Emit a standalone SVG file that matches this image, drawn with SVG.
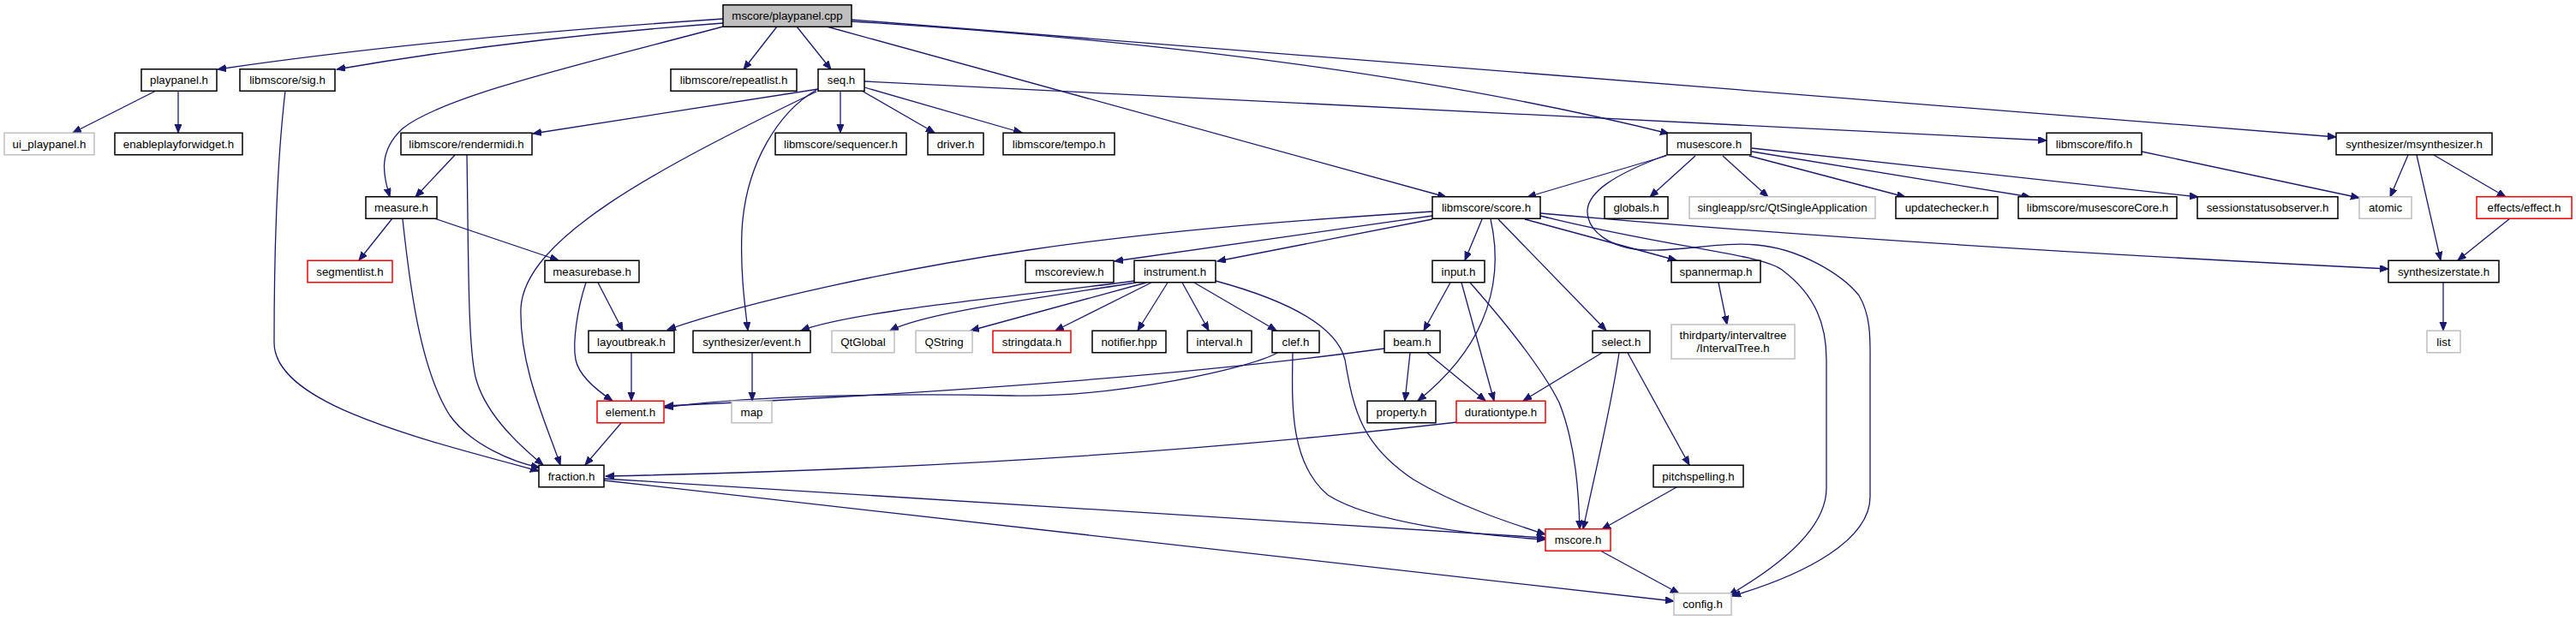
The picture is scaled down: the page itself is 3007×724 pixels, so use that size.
<svg xmlns="http://www.w3.org/2000/svg" width="3007" height="724" viewBox="0 0 3007 724">
<style>
.n rect{fill:#fff;stroke:#000;stroke-width:1.5}
.n.g rect{stroke:#bfbfbf}
.n.r rect{stroke:#ff0000}
.n.root rect{fill:#bfbfbf}
.n text{font-family:"Liberation Sans",Arial,Helvetica,sans-serif;font-size:13.3px;fill:#000;text-anchor:middle}
.e path{fill:none;stroke:#191970;stroke-width:1.3;marker-end:url(#ah)}
</style>
<defs>
<marker id="ah" markerUnits="userSpaceOnUse" markerWidth="11" markerHeight="9" refX="10" refY="4" orient="auto">
<path d="M0,0 L10,4 L0,8 z" fill="#191970" stroke="#191970" stroke-width="1"/>
</marker>
</defs>
<rect width="3007" height="724" fill="#fff"/>
<g id="edges" class="e">
<path d="M844,22 Q500,45 254,81"/>
<path d="M844,27 Q600,45 393,81"/>
<path d="M844,31 C700,70 520,110 470,150 C440,178 448,205 455,230"/>
<path d="M907,31 L868,81"/>
<path d="M930,31 L970,81"/>
<path d="M965,31 L1688,230"/>
<path d="M994,25 Q1560,60 1948,156"/>
<path d="M994,23 L2727,160"/>
<path d="M182,106 L85,155"/>
<path d="M208,106 L208,155"/>
<path d="M333,106 C322,200 320,330 320,400 C320,470 480,510 629,550"/>
<path d="M955,104 L622,156"/>
<path d="M953,107 C760,200 612,280 608,360 C606,430 640,500 654,543"/>
<path d="M981,106 L981,155"/>
<path d="M1006,106 L1091,155"/>
<path d="M1009,102 L1193,155"/>
<path d="M1009,95 L2389,164"/>
<path d="M953,105 C910,130 870,190 866,270 C864,320 870,360 873,386"/>
<path d="M531,181 L485,230"/>
<path d="M470,256 C478,330 490,430 525,485 C550,520 600,540 630,546"/>
<path d="M545,181 C547,300 546,400 555,440 C565,480 600,515 634,543"/>
<path d="M725,494 L683,543"/>
<path d="M1701,493 Q1250,545 707,556"/>
<path d="M458,255 L419,304"/>
<path d="M507,255 L652,304"/>
<path d="M698,330 L727,386"/>
<path d="M684,330 C674,360 668,400 672,420 C676,440 700,458 715,468"/>
<path d="M737,412 L737,468"/>
<path d="M1672,247 C1500,258 1350,270 1200,292 C1050,314 880,350 779,385"/>
<path d="M1672,252 L1301,305"/>
<path d="M1672,256 L1421,305"/>
<path d="M1730,256 L1710,304"/>
<path d="M1740,256 C1750,300 1745,340 1730,375 C1715,410 1690,440 1655,468"/>
<path d="M1749,256 L1875,386"/>
<path d="M1780,256 L1957,304"/>
<path d="M1798,252 C1950,290 2050,295 2080,315 C2120,345 2132,380 2132,420 L2132,570 C2132,620 2070,665 2018,695"/>
<path d="M1798,249 Q2200,285 2788,314"/>
<path d="M1948,180 C1880,205 1855,225 1853,245 C1852,270 1880,290 1920,292 C1960,294 2010,282 2050,286 C2100,290 2150,320 2170,345 C2185,370 2183,400 2183,430 L2183,580 C2183,630 2110,670 2022,696"/>
<path d="M1945,182 L1783,230"/>
<path d="M1979,182 L1926,230"/>
<path d="M2011,182 L2064,230"/>
<path d="M2042,182 L2224,230"/>
<path d="M2045,177 L2370,230"/>
<path d="M2045,173 L2566,230"/>
<path d="M2500,177 L2754,231"/>
<path d="M2811,181 L2790,230"/>
<path d="M2821,181 L2849,304"/>
<path d="M2841,181 L2925,230"/>
<path d="M2930,255 L2869,304"/>
<path d="M2852,330 L2852,386"/>
<path d="M1324,328 C1200,345 1000,362 935,386"/>
<path d="M1326,330 C1200,350 1080,365 1039,386"/>
<path d="M1338,330 L1133,386"/>
<path d="M1344,330 L1232,386"/>
<path d="M1363,330 L1328,386"/>
<path d="M1380,330 L1411,386"/>
<path d="M1394,330 L1490,386"/>
<path d="M1419,328 C1500,350 1560,380 1570,420 C1580,480 1590,520 1650,560 C1700,590 1760,610 1804,624"/>
<path d="M1491,412 C1460,430 1300,465 1180,462 C1000,458 850,465 776,476"/>
<path d="M1616,407 Q1300,450 776,474"/>
<path d="M1509,412 C1508,470 1505,540 1550,578 C1600,610 1720,625 1804,630"/>
<path d="M705,559 L1804,628"/>
<path d="M705,561 L1954,702"/>
<path d="M1693,330 L1662,386"/>
<path d="M1706,330 L1744,468"/>
<path d="M1716,330 C1760,380 1800,430 1820,470 C1840,520 1843,580 1844,618"/>
<path d="M1646,412 L1640,468"/>
<path d="M1666,412 L1734,468"/>
<path d="M1870,412 L1778,468"/>
<path d="M1890,412 C1880,480 1860,560 1848,618"/>
<path d="M1900,412 L1972,543"/>
<path d="M1957,569 L1870,618"/>
<path d="M1868,643 L1960,693"/>
<path d="M2006,330 L2016,379"/>
<path d="M878,412 L878,468"/>
</g>
<g id="n_root" class="n root"><rect x="844" y="5.75" width="150" height="25.5"/><text x="919" y="23.2">mscore/playpanel.cpp</text></g>
<g id="n_playpanel_h" class="n"><rect x="165" y="80.75" width="88" height="25.5"/><text x="209" y="98.2">playpanel.h</text></g>
<g id="n_sig_h" class="n"><rect x="280" y="80.75" width="111" height="25.5"/><text x="335.5" y="98.2">libmscore/sig.h</text></g>
<g id="n_repeatlist_h" class="n"><rect x="783" y="80.75" width="147" height="25.5"/><text x="856.5" y="98.2">libmscore/repeatlist.h</text></g>
<g id="n_seq_h" class="n"><rect x="955" y="80.75" width="54" height="25.5"/><text x="982" y="98.2">seq.h</text></g>
<g id="n_ui_playpanel_h" class="n g"><rect x="5" y="155.25" width="105" height="25.5"/><text x="57.5" y="172.7">ui_playpanel.h</text></g>
<g id="n_enableplayforwidget_h" class="n"><rect x="134" y="155.25" width="149" height="25.5"/><text x="208.5" y="172.7">enableplayforwidget.h</text></g>
<g id="n_rendermidi_h" class="n"><rect x="468" y="155.25" width="153" height="25.5"/><text x="544.5" y="172.7">libmscore/rendermidi.h</text></g>
<g id="n_sequencer_h" class="n"><rect x="905" y="155.25" width="153" height="25.5"/><text x="981.5" y="172.7">libmscore/sequencer.h</text></g>
<g id="n_driver_h" class="n"><rect x="1083" y="155.25" width="65" height="25.5"/><text x="1115.5" y="172.7">driver.h</text></g>
<g id="n_tempo_h" class="n"><rect x="1171" y="155.25" width="130" height="25.5"/><text x="1236" y="172.7">libmscore/tempo.h</text></g>
<g id="n_musescore_h" class="n"><rect x="1946" y="155.25" width="98" height="25.5"/><text x="1995" y="172.7">musescore.h</text></g>
<g id="n_fifo_h" class="n"><rect x="2389" y="155.25" width="111" height="25.5"/><text x="2444.5" y="172.7">libmscore/fifo.h</text></g>
<g id="n_msynthesizer_h" class="n"><rect x="2727" y="155.25" width="182" height="25.5"/><text x="2818" y="172.7">synthesizer/msynthesizer.h</text></g>
<g id="n_measure_h" class="n"><rect x="427" y="229.75" width="83" height="25.5"/><text x="468.5" y="247.2">measure.h</text></g>
<g id="n_score_h" class="n"><rect x="1672" y="229.75" width="126" height="25.5"/><text x="1735" y="247.2">libmscore/score.h</text></g>
<g id="n_globals_h" class="n"><rect x="1873" y="229.75" width="74" height="25.5"/><text x="1910" y="247.2">globals.h</text></g>
<g id="n_qtsingleapp" class="n g"><rect x="1972" y="229.75" width="217" height="25.5"/><text x="2080.5" y="247.2">singleapp/src/QtSingleApplication</text></g>
<g id="n_updatechecker_h" class="n"><rect x="2213" y="229.75" width="119" height="25.5"/><text x="2272.5" y="247.2">updatechecker.h</text></g>
<g id="n_musescoreCore_h" class="n"><rect x="2356" y="229.75" width="185" height="25.5"/><text x="2448.5" y="247.2">libmscore/musescoreCore.h</text></g>
<g id="n_sessionstatusobserver_h" class="n"><rect x="2565" y="229.75" width="164" height="25.5"/><text x="2647" y="247.2">sessionstatusobserver.h</text></g>
<g id="n_atomic" class="n g"><rect x="2754" y="229.75" width="61" height="25.5"/><text x="2784.5" y="247.2">atomic</text></g>
<g id="n_effect_h" class="n r"><rect x="2891" y="229.75" width="111" height="25.5"/><text x="2946.5" y="247.2">effects/effect.h</text></g>
<g id="n_segmentlist_h" class="n r"><rect x="359" y="304.25" width="99" height="25.5"/><text x="408.5" y="321.7">segmentlist.h</text></g>
<g id="n_measurebase_h" class="n"><rect x="636" y="304.25" width="110" height="25.5"/><text x="691" y="321.7">measurebase.h</text></g>
<g id="n_mscoreview_h" class="n"><rect x="1197" y="304.25" width="103" height="25.5"/><text x="1248.5" y="321.7">mscoreview.h</text></g>
<g id="n_instrument_h" class="n"><rect x="1324" y="304.25" width="95" height="25.5"/><text x="1371.5" y="321.7">instrument.h</text></g>
<g id="n_input_h" class="n"><rect x="1672" y="304.25" width="61" height="25.5"/><text x="1702.5" y="321.7">input.h</text></g>
<g id="n_spannermap_h" class="n"><rect x="1951" y="304.25" width="104" height="25.5"/><text x="2003" y="321.7">spannermap.h</text></g>
<g id="n_synthesizerstate_h" class="n"><rect x="2788" y="304.25" width="129" height="25.5"/><text x="2852.5" y="321.7">synthesizerstate.h</text></g>
<g id="n_layoutbreak_h" class="n"><rect x="687" y="386.25" width="100" height="25.5"/><text x="737" y="403.7">layoutbreak.h</text></g>
<g id="n_event_h" class="n"><rect x="809" y="386.25" width="137" height="25.5"/><text x="877.5" y="403.7">synthesizer/event.h</text></g>
<g id="n_qtglobal" class="n g"><rect x="971" y="386.25" width="73" height="25.5"/><text x="1007.5" y="403.7">QtGlobal</text></g>
<g id="n_qstring" class="n g"><rect x="1069" y="386.25" width="66" height="25.5"/><text x="1102" y="403.7">QString</text></g>
<g id="n_stringdata_h" class="n r"><rect x="1159" y="386.25" width="91" height="25.5"/><text x="1204.5" y="403.7">stringdata.h</text></g>
<g id="n_notifier_hpp" class="n"><rect x="1275" y="386.25" width="86" height="25.5"/><text x="1318" y="403.7">notifier.hpp</text></g>
<g id="n_interval_h" class="n"><rect x="1386" y="386.25" width="75" height="25.5"/><text x="1423.5" y="403.7">interval.h</text></g>
<g id="n_clef_h" class="n"><rect x="1485" y="386.25" width="55" height="25.5"/><text x="1512.5" y="403.7">clef.h</text></g>
<g id="n_beam_h" class="n"><rect x="1616" y="386.25" width="65" height="25.5"/><text x="1648.5" y="403.7">beam.h</text></g>
<g id="n_select_h" class="n"><rect x="1859" y="386.25" width="67" height="25.5"/><text x="1892.5" y="403.7">select.h</text></g>
<g id="n_intervaltree_h" class="n g"><rect x="1951" y="379" width="144" height="40"/><text x="2023" y="395.5">thirdparty/intervaltree</text><text x="2023" y="410.5">/IntervalTree.h</text></g>
<g id="n_list" class="n g"><rect x="2833" y="386.25" width="39" height="25.5"/><text x="2852.5" y="403.7">list</text></g>
<g id="n_element_h" class="n r"><rect x="697" y="468.25" width="78" height="25.5"/><text x="736" y="485.7">element.h</text></g>
<g id="n_map" class="n g"><rect x="854" y="468.25" width="47" height="25.5"/><text x="877.5" y="485.7">map</text></g>
<g id="n_property_h" class="n"><rect x="1596" y="468.25" width="80" height="25.5"/><text x="1636" y="485.7">property.h</text></g>
<g id="n_durationtype_h" class="n r"><rect x="1700" y="468.25" width="104" height="25.5"/><text x="1752" y="485.7">durationtype.h</text></g>
<g id="n_fraction_h" class="n"><rect x="629" y="543.25" width="76" height="25.5"/><text x="667" y="560.7">fraction.h</text></g>
<g id="n_pitchspelling_h" class="n"><rect x="1930" y="543.25" width="105" height="25.5"/><text x="1982.5" y="560.7">pitchspelling.h</text></g>
<g id="n_mscore_h" class="n r"><rect x="1804" y="617.75" width="76" height="25.5"/><text x="1842" y="635.2">mscore.h</text></g>
<g id="n_config_h" class="n g"><rect x="1954" y="692.75" width="67" height="25.5"/><text x="1987.5" y="710.2">config.h</text></g>
</svg>
